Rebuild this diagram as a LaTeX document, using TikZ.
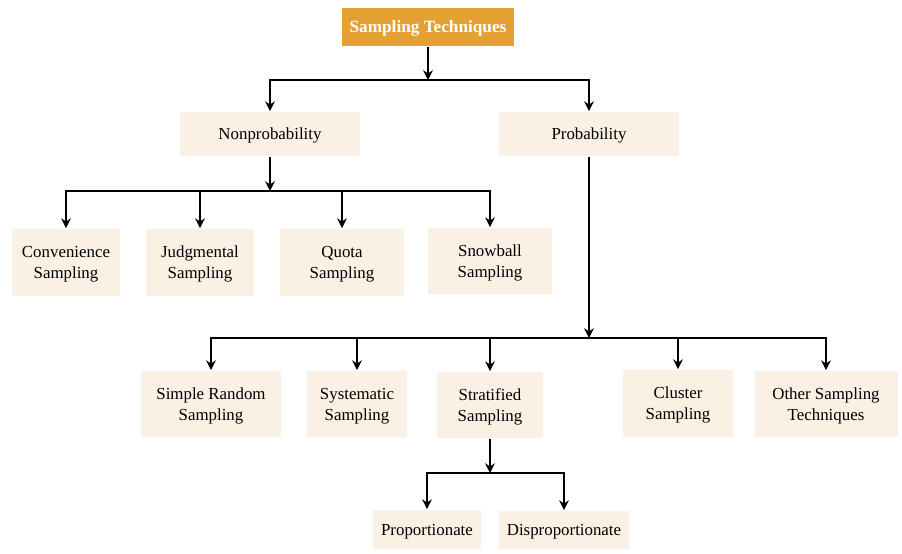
\documentclass[tikz,border=0pt]{standalone}
\usepackage{fontspec}
\setmainfont{Liberation Serif}
\usetikzlibrary{positioning,arrows.meta}
\definecolor{boxfill}{HTML}{FAF0E4}
\definecolor{rootfill}{HTML}{E5A033}

\begin{document}
\begin{tikzpicture}[x=0.02cm,y=-0.02cm,->,>={Stealth[length=5.5pt,width=5.5pt]},line width=1.1pt,
    root node/.style={fill=rootfill,text=white,font=\fontsize{9.8}{11}\selectfont\bfseries,inner sep=0pt,minimum height=0.76cm,text depth=0pt},
    base node/.style={fill=boxfill,align=center,inner sep=0pt,text depth=0pt,font=\fontsize{9.6}{12}\selectfont}]

\useasboundingbox (0,0) rectangle (902,554);

\node[root node,minimum width=3.46cm]                    (root)    at (428,27)  {Sampling Techniques};

\node[base node,minimum width=3.6cm,minimum height=0.88cm] (nonprob) at (270,134)   {Nonprobability};
\node[base node,minimum width=3.6cm,minimum height=0.88cm] (prob)    at (589,134)   {Probability};

\node[base node,minimum width=2.18cm,minimum height=1.34cm] (conv)   at (66,262.5) {Convenience\\Sampling};
\node[base node,minimum width=2.18cm,minimum height=1.34cm] (judg)   at (200,262.5) {Judgmental\\Sampling};
\node[base node,minimum width=2.48cm,minimum height=1.34cm] (quota)  at (342,262.5) {Quota\\Sampling};
\node[base node,minimum width=2.48cm,minimum height=1.32cm] (snow)   at (490,261)  {Snowball\\Sampling};

\node[base node,minimum width=2.82cm,minimum height=1.32cm] (simple) at (211,404) {Simple Random\\Sampling};
\node[base node,minimum width=2.0cm,minimum height=1.32cm]  (syst)   at (357,404)   {Systematic\\Sampling};
\node[base node,minimum width=2.12cm,minimum height=1.32cm] (strat)  at (490,405)   {Stratified\\Sampling};
\node[base node,minimum width=2.2cm,minimum height=1.34cm]  (clust)  at (678,403.5) {Cluster\\Sampling};
\node[base node,minimum width=2.86cm,minimum height=1.32cm] (other)  at (826,404) {Other Sampling\\Techniques};

\node[base node,minimum width=2.16cm,minimum height=0.78cm] (propo)  at (427,529.5) {Proportionate};
\node[base node,minimum width=2.6cm,minimum height=0.76cm]  (dispro) at (564,530)   {Disproportionate};

% junctions
\coordinate (j0) at (428,80);
\coordinate (j1) at (270,191);
\coordinate (j2) at (589,338);
\coordinate (j3) at (490,473);

\draw (root) -- (j0);
\draw (j0) -| (nonprob);
\draw (j0) -| (prob);

\draw (nonprob) -- (j1);
\foreach \n in {conv,judg,quota,snow}
  \draw (j1) -| (\n);

\draw (prob) -- (j2);
\foreach \n in {simple,syst,strat,clust,other}
  \draw (j2) -| (\n);

\draw (strat) -- (j3);
\draw (j3) -| (propo);
\draw (j3) -| (dispro);
\end{tikzpicture}
\end{document}
